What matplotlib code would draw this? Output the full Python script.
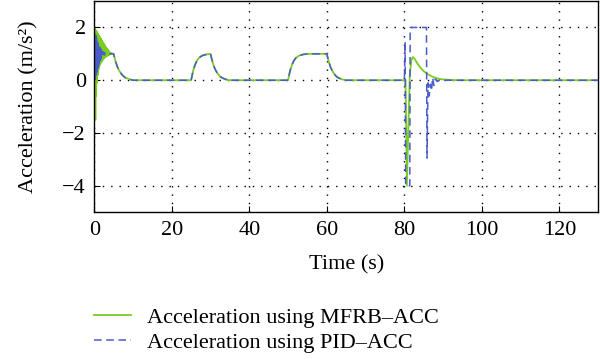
import numpy as np
import matplotlib
matplotlib.use("Agg")
import matplotlib.pyplot as plt

# Acceleration using MFRB-ACC (green, solid)
t_mfrb = [0.0, 0.1, 0.2, 0.3, 0.4, 0.5, 0.6, 0.7, 0.8, 0.9, 1.0, 1.1,
          1.2, 1.3, 1.4, 1.5, 1.6, 1.7, 1.8, 1.9, 2.0, 2.1, 2.2, 2.3,
          2.4, 2.5, 2.6, 2.7, 2.8, 2.9, 3.0, 3.1, 3.2, 3.3, 3.4, 3.5,
          3.6, 3.7, 3.8, 3.9, 4.0, 4.1, 4.2, 4.3, 4.4, 5.0,
          5.5, 6.0, 6.5, 7.0, 7.5, 8.0, 9.0, 10.0,
          25.0, 25.5, 26.0, 26.5, 27.0, 27.5, 28.0, 29.0, 30.0,
          30.5, 31.0, 31.5, 32.0, 32.5, 33.0, 34.0, 35.0,
          50.0, 50.5, 51.0, 51.5, 52.0, 52.5, 53.0, 54.0, 55.0, 60.0,
          60.5, 61.0, 61.5, 62.0, 62.5, 63.0, 64.0, 65.0,
          80.3, 80.5, 80.65, 81.0, 81.4, 81.8, 82.2, 82.7, 83.3, 84.0,
          85.0, 86.0, 87.0, 88.0, 89.0, 90.0, 92.0, 94.0, 130.0]
a_mfrb = [2.0, -1.0, 1.95, -1.5, 1.9, -0.6, 1.85, -0.1, 1.8, 0.2, 1.75, 0.4,
          1.7, 0.5, 1.65, 0.6, 1.6, 0.65, 1.55, 0.7, 1.5, 0.75, 1.45, 0.8,
          1.4, 0.83, 1.35, 0.86, 1.3, 0.88, 1.26, 0.9, 1.22, 0.92, 1.18, 0.94,
          1.14, 0.95, 1.1, 0.97, 1.07, 0.98, 1.04, 0.99, 1.02, 1.0,
          0.72, 0.5, 0.35, 0.24, 0.16, 0.1, 0.04, 0.0,
          0.0, 0.35, 0.58, 0.74, 0.84, 0.9, 0.94, 0.98, 1.0,
          0.7, 0.48, 0.33, 0.22, 0.14, 0.09, 0.03, 0.0,
          0.0, 0.35, 0.58, 0.74, 0.84, 0.9, 0.94, 0.98, 1.0, 1.0,
          0.7, 0.48, 0.33, 0.22, 0.14, 0.09, 0.03, 0.0,
          0.0, -2.0, -4.0, -2.0, 0.2, 0.75, 0.88, 0.8, 0.65, 0.5,
          0.34, 0.23, 0.15, 0.09, 0.05, 0.03, 0.01, 0.0, 0.0]

# Acceleration using PID-ACC (blue, dashed)
t_pid = [0.0, 0.1, 0.2, 0.3, 0.4, 0.5, 0.6, 0.7, 0.8, 0.9, 1.0, 1.1,
         1.2, 1.3, 1.4, 1.5, 1.6, 1.7, 1.8, 1.9, 2.0, 2.2, 2.4, 2.6,
         2.8, 3.0, 3.3, 5.0,
         5.5, 6.0, 6.5, 7.0, 7.5, 8.0, 9.0, 10.0,
         25.0, 25.5, 26.0, 26.5, 27.0, 27.5, 28.0, 29.0, 30.0,
         30.5, 31.0, 31.5, 32.0, 32.5, 33.0, 34.0, 35.0,
         50.0, 50.5, 51.0, 51.5, 52.0, 52.5, 53.0, 54.0, 55.0, 60.0,
         60.5, 61.0, 61.5, 62.0, 62.5, 63.0, 64.0, 65.0,
         80.0, 80.2, 80.35, 81.4, 81.5, 85.7, 85.85, 86.1, 86.4, 86.7,
         87.0, 87.3, 87.6, 88.0, 88.5, 89.0, 130.0]
a_pid = [2.0, 0.1, 1.8, 0.0, 1.7, 0.2, 1.6, 0.3, 1.5, 0.45, 1.4, 0.55,
         1.3, 0.65, 1.25, 0.75, 1.2, 0.8, 1.15, 0.85, 1.1, 0.9, 1.07, 0.95,
         1.03, 0.98, 1.0, 1.0,
         0.72, 0.5, 0.35, 0.24, 0.16, 0.1, 0.04, 0.0,
         0.0, 0.35, 0.58, 0.74, 0.84, 0.9, 0.94, 0.98, 1.0,
         0.7, 0.48, 0.33, 0.22, 0.14, 0.09, 0.03, 0.0,
         0.0, 0.35, 0.58, 0.74, 0.84, 0.9, 0.94, 0.98, 1.0, 1.0,
         0.7, 0.48, 0.33, 0.22, 0.14, 0.09, 0.03, 0.0,
         0.0, 1.45, -4.0, -4.0, 2.0, 2.0, -2.95, -0.1, -0.6, -0.15,
         -0.4, 0.1, -0.2, 0.05, -0.05, 0.0, 0.0]

x_ticks = [0, 20, 40, 60, 80, 100, 120]
y_ticks = [-4, -2, 0, 2]
y_ticklabels = ['\u22124', '\u22122', '0', '2']

plt.rcParams['font.family'] = ['Liberation Serif', 'DejaVu Serif']
plt.rcParams['font.size'] = 16

fig = plt.figure(figsize=(6, 3.59), dpi=100)
ax = fig.add_axes([0.157, 0.409, 0.84, 0.588])

line_m, = ax.plot(t_mfrb, a_mfrb, color='#7acc1e', lw=1.3,
                  label='Acceleration using MFRB\u2013ACC')
line_p, = ax.plot(t_pid, a_pid, color='#4a5ccc', lw=1.1, ls=(0, (5, 3)),
                  label='Acceleration using PID\u2013ACC')

ax.set_xlim(0, 130)
ax.set_ylim(-5, 3)
ax.set_xticks(x_ticks)
ax.set_yticks(y_ticks)
ax.set_yticklabels(y_ticklabels)
ax.tick_params(direction='in', length=4, width=0.8, pad=6, labelsize=16)
ax.grid(True, color='black', ls=(0, (1, 5)), lw=1.0)
for s in ax.spines.values():
    s.set_linewidth(1.0)

ax.set_xlabel('Time (s)', labelpad=11)
ax.set_ylabel('Acceleration (m/s\u00b2)', labelpad=17)

fig.legend(handles=[line_m, line_p], loc='upper left',
           bbox_to_anchor=(0.157, 0.143), frameon=False,
           handlelength=1.65, handletextpad=0.72, labelspacing=0.2,
           borderaxespad=0, borderpad=0, fontsize=16)

fig.savefig('out.png', dpi=100)
